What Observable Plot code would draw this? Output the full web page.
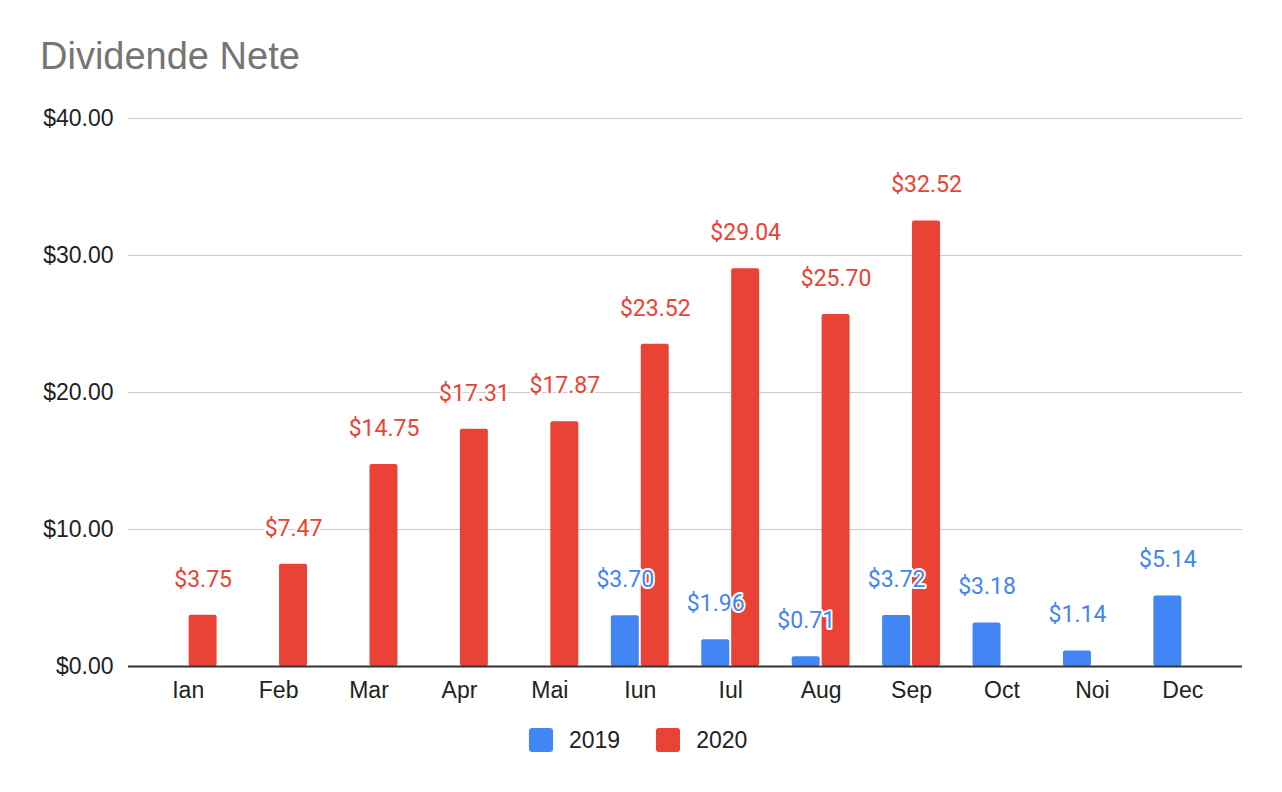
<!DOCTYPE html>
<html>
<head>
<meta charset="utf-8">
<script src="https://cdn.jsdelivr.net/npm/d3@7"></script>
<script src="https://cdn.jsdelivr.net/npm/@observablehq/plot@0.6"></script>
<style>
  html, body { margin: 0; padding: 0; background: #fff; }
  body { width: 1282px; height: 792px; position: relative; overflow: hidden; }
  #title { position: absolute; left: 40px; top: 37px; font-family: 'Liberation Sans', Arial, sans-serif; font-size: 38px; line-height: 1; color: #757575; white-space: nowrap; }
  #chart { position: absolute; left: 0; top: 90px; }
  #legend { position: absolute; left: 529px; top: 728px; height: 24px; display: flex; align-items: center; font-family: 'Liberation Sans', Arial, sans-serif; font-size: 23px; color: #222; }
  .sw { width: 24px; height: 24px; border-radius: 3px; margin-right: 16px; }
  .lab { margin-right: 36px; }
</style>
</head>
<body>
<div id="title">Dividende Nete</div>
<div id="chart"></div>
<div id="legend"></div>
<script>
const months = ["Ian","Feb","Mar","Apr","Mai","Iun","Iul","Aug","Sep","Oct","Noi","Dec"];
const years = ["2019","2020"];
const values2019 = [null,null,null,null,null,3.70,1.96,0.71,3.72,3.18,1.14,5.14];
const values2020 = [3.75,7.47,14.75,17.31,17.87,23.52,29.04,25.70,32.52,null,null,null];
const yTicks = [0,10,20,30,40];
const colors = ["#4285F4","#EA4335"];

const fmt = d => "$" + d.toFixed(2);
const rows = vals => months.map((m, i) => ({month: m, value: vals[i]})).filter(d => d.value != null);
const d2019 = rows(values2019);
const d2020 = rows(values2020);

// band layout: bandwidth ~58px, each bar 28px, ~2px gap
const inset = 29.9;
const shift = 14.95;

const chart = Plot.plot({
  width: 1282,
  height: 620,
  marginLeft: 128,
  marginRight: 40,
  marginTop: 28,
  marginBottom: 44,
  style: {fontFamily: "'Liberation Sans', Arial, sans-serif", fontSize: "23px", color: "#222", background: "white"},
  x: {domain: months, paddingInner: 0.36, paddingOuter: 0.34, round: false, label: null},
  y: {domain: [0, 40], label: null},
  marks: [
    Plot.ruleY(yTicks.slice(1), {stroke: "#cccccc", strokeWidth: 1.2}),
    Plot.axisY(yTicks, {tickFormat: fmt, tickSize: 0, tickPadding: 15, label: null, fontSize: 23, fill: "#222"}),
    Plot.axisX({tickSize: 0, tickPadding: 15, label: null, fontSize: 23, fill: "#222"}),
    Plot.barY(d2019, {x: "month", y: "value", fill: colors[0], insetRight: inset, rx: 2}),
    Plot.barY(d2020, {x: "month", y: "value", fill: colors[1], insetLeft: inset, rx: 2}),
    Plot.ruleY([0], {stroke: "#333333", strokeWidth: 2}),
    Plot.text(d2020, {x: "month", y: "value", text: d => fmt(d.value), fill: colors[1], stroke: "white", strokeWidth: 4, dx: shift, dy: -36, fontFamily: "Roboto", fontSize: 23}),
    Plot.text(d2019, {x: "month", y: "value", text: d => fmt(d.value), fill: colors[0], stroke: "white", strokeWidth: 4, dx: -shift, dy: -36, fontFamily: "Roboto", fontSize: 23})
  ]
});
document.getElementById("chart").appendChild(chart);

const legend = document.getElementById("legend");
years.forEach((y, j) => {
  const sw = document.createElement("div");
  sw.className = "sw";
  sw.style.background = colors[j];
  const lab = document.createElement("span");
  lab.className = "lab";
  lab.textContent = y;
  legend.appendChild(sw);
  legend.appendChild(lab);
});
</script>
</body>
</html>
